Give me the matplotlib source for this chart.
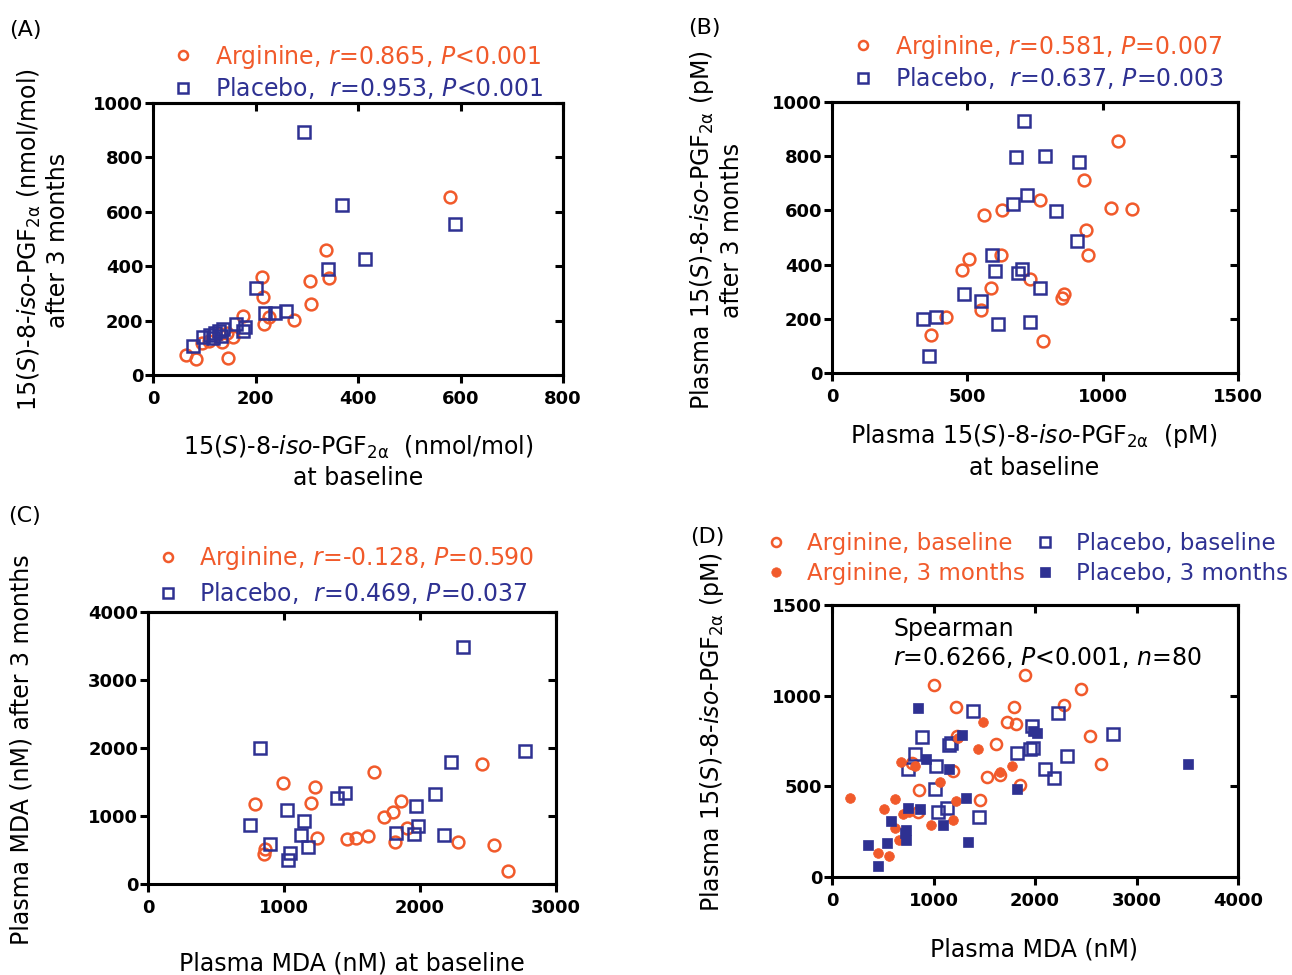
import matplotlib
matplotlib.use("Agg")
import matplotlib.pyplot as plt
from matplotlib.lines import Line2D

RED = '#F15A2B'
BLUE = '#2E3192'
W, H = 1292, 975

# (A) urinary 15(S)-8-iso-PGF2a, baseline vs after 3 months
a_arg_base = [579, 337, 343, 306, 308, 212, 214, 175, 227, 216, 276, 156, 135, 145, 95, 65, 84, 147, 128, 110]
a_arg_3m = [655, 460, 358, 347, 260, 362, 286, 217, 212, 188, 202, 139, 120, 153, 119, 74, 58, 64, 150, 125]
a_plc_base = [295, 368, 589, 414, 342, 201, 219, 239, 260, 162, 180, 176, 137, 121, 111, 118, 98, 78, 128, 132]
a_plc_3m = [893, 625, 555, 425, 388, 319, 227, 229, 237, 188, 178, 163, 168, 153, 147, 135, 139, 108, 160, 145]

# (B) plasma 15(S)-8-iso-PGF2a (pM)
b_arg_base = [1058, 931, 770, 629, 563, 1032, 1109, 940, 947, 624, 506, 479, 732, 586, 856, 848, 550, 421, 366, 778]
b_arg_3m = [856, 712, 638, 600, 582, 610, 607, 528, 434, 436, 421, 379, 347, 314, 292, 276, 233, 205, 141, 119]
b_plc_base = [711, 679, 787, 913, 719, 667, 827, 904, 592, 601, 686, 703, 770, 488, 549, 335, 383, 612, 732, 357]
b_plc_3m = [930, 796, 800, 779, 656, 623, 598, 488, 436, 377, 368, 384, 313, 292, 264, 199, 206, 182, 190, 64]

# (C) plasma MDA (nM)
c_arg_base = [2453, 1665, 996, 1226, 787, 1197, 1857, 1798, 1732, 1901, 1246, 1462, 1531, 1621, 1815, 2279, 2544, 2649, 863, 851]
c_arg_3m = [1765, 1653, 1491, 1433, 1174, 1188, 1222, 1066, 978, 822, 675, 660, 680, 699, 616, 616, 567, 186, 518, 445]
c_plc_base = [2318, 827, 2772, 2225, 2107, 1447, 1391, 1972, 1023, 748, 1145, 1128, 1177, 895, 1047, 1030, 1822, 1955, 1984, 2180]
c_plc_3m = [3487, 2005, 1961, 1800, 1320, 1335, 1262, 1149, 1081, 870, 929, 724, 543, 587, 455, 357, 753, 733, 856, 724]

# (D) plasma MDA vs plasma 15(S)-8-iso-PGF2a, all samples
d_arg_base_mda = [1000, 1898, 2456, 2282, 1223, 1790, 1725, 1813, 2544, 1230, 1613, 2652, 1190, 1525, 1659, 1852, 856, 1462, 787, 852]
d_arg_base_pgf = [1059, 1113, 1035, 950, 937, 939, 856, 846, 778, 778, 731, 624, 583, 550, 561, 506, 478, 422, 630, 361]
d_arg_3m_mda = [1492, 1439, 1774, 1652, 1066, 675, 813, 180, 620, 515, 695, 1220, 1190, 974, 623, 662, 452, 564, 1246, 760]
d_arg_3m_pgf = [856, 707, 611, 581, 524, 635, 611, 435, 431, 376, 346, 420, 313, 285, 272, 204, 135, 115, 769, 360]
d_plc_base_mda = [1387, 2226, 2770, 1970, 885, 1148, 1170, 1984, 1951, 2318, 1826, 820, 744, 1026, 2102, 2184, 1016, 1043, 1131, 1446]
d_plc_base_pgf = [913, 904, 787, 830, 774, 728, 737, 713, 704, 670, 685, 681, 598, 611, 593, 546, 487, 357, 380, 333]
d_plc_3m_mda = [852, 1279, 1984, 2023, 928, 1157, 3508, 1820, 1321, 744, 869, 584, 1089, 728, 728, 354, 541, 1344, 449, 721]
d_plc_3m_pgf = [931, 781, 806, 796, 652, 596, 624, 487, 435, 380, 374, 311, 285, 259, 204, 176, 185, 194, 61, 241]

plt.rcParams['font.family'] = 'DejaVu Sans'
plt.rcParams['mathtext.fontset'] = 'dejavusans'

PGF = '15($S$)-8-$\\mathit{iso}$-PGF$_{\\mathregular{2α}}$'
LABEL_FS = 17
LEGEND_FS = 17


def fx(x):
    return x / W


def fy(y):
    return 1 - y / H


def make_axes(fig, left, top, right, bottom):
    return fig.add_axes([fx(left), fy(bottom), (right - left) / W, (bottom - top) / H])


def style_axes(ax, xlim, xticks, ylim, yticks):
    ax.set_xlim(xlim)
    ax.set_ylim(ylim)
    ax.set_xticks(xticks)
    ax.set_yticks(yticks)
    for s in ax.spines.values():
        s.set_linewidth(2.2)
    ax.tick_params(direction='out', length=6, width=2.2, labelsize=13)
    ax.tick_params(axis='x', pad=5)
    ax.tick_params(axis='y', pad=1)
    for lab in ax.get_xticklabels() + ax.get_yticklabels():
        lab.set_fontweight('bold')
    # ticks on top / right point inward
    top = ax.secondary_xaxis('top')
    top.set_xticks(xticks)
    top.tick_params(direction='in', length=6, width=2.2, labeltop=False)
    top.spines['top'].set_linewidth(2.2)
    right = ax.secondary_yaxis('right')
    right.set_yticks(yticks)
    right.tick_params(direction='in', length=6, width=2.2, labelright=False)
    right.spines['right'].set_linewidth(2.2)


def open_pts(ax, x, y, marker, color, ms=8.5):
    ax.plot(x, y, linestyle='none', marker=marker, ms=ms, mfc='none',
            mec=color, mew=1.8, clip_on=False)


def filled_pts(ax, x, y, marker, color, ms=7):
    ax.plot(x, y, linestyle='none', marker=marker, ms=ms, mfc=color,
            mec=color, mew=0.5, clip_on=False)


def key(marker, color, filled=False):
    if filled:
        return Line2D([], [], linestyle='none', marker=marker, ms=6.8, mfc=color, mec=color, mew=0.5)
    return Line2D([], [], linestyle='none', marker=marker, ms=6.5, mfc='none', mec=color, mew=1.8)


def add_legend(ax, handles, labels, anchor, colors, spacing=0.2, fs=LEGEND_FS):
    leg = ax.legend(handles, labels, loc='upper left', bbox_to_anchor=anchor,
                    frameon=False, fontsize=fs, handlelength=1.0, handletextpad=0.85,
                    labelspacing=spacing, borderpad=0, borderaxespad=0)
    for t, c in zip(leg.get_texts(), colors):
        t.set_color(c)
    return leg


fig = plt.figure(figsize=(W / 100, H / 100), dpi=100)

# ---- (A)
ax = make_axes(fig, 153, 103, 563, 375)
open_pts(ax, a_arg_base, a_arg_3m, 'o', RED)
open_pts(ax, a_plc_base, a_plc_3m, 's', BLUE)
style_axes(ax, (0, 800), [0, 200, 400, 600, 800], (0, 1000), [0, 200, 400, 600, 800, 1000])
add_legend(ax, [key('o', RED), key('s', BLUE)],
           ['Arginine, $r$=0.865, $P$<0.001', 'Placebo,  $r$=0.953, $P$<0.001'],
           (0.044, 1.222), [RED, BLUE])
fig.text(fx(25), fy(30), '(A)', fontsize=16, ha='center', va='center')
fig.text(fx(43), fy(240), PGF + ' (nmol/mol)\nafter 3 months', rotation=90, fontsize=LABEL_FS,
         ha='center', va='center', multialignment='center', linespacing=1.15)
fig.text(fx(358), fy(462), PGF + '  (nmol/mol)\nat baseline', fontsize=LABEL_FS,
         ha='center', va='center', multialignment='center', linespacing=1.3)

# ---- (B)
ax = make_axes(fig, 832, 102, 1238, 373)
open_pts(ax, b_arg_base, b_arg_3m, 'o', RED)
open_pts(ax, b_plc_base, b_plc_3m, 's', BLUE)
style_axes(ax, (0, 1500), [0, 500, 1000, 1500], (0, 1000), [0, 200, 400, 600, 800, 1000])
add_legend(ax, [key('o', RED), key('s', BLUE)],
           ['Arginine, $r$=0.581, $P$=0.007', 'Placebo,  $r$=0.637, $P$=0.003'],
           (0.047, 1.256), [RED, BLUE])
fig.text(fx(704), fy(28), '(B)', fontsize=16, ha='center', va='center')
fig.text(fx(716), fy(230), 'Plasma ' + PGF + ' (pM)\nafter 3 months', rotation=90, fontsize=LABEL_FS,
         ha='center', va='center', multialignment='center', linespacing=1.25)
fig.text(fx(1034), fy(451), 'Plasma ' + PGF + '  (pM)\nat baseline', fontsize=LABEL_FS,
         ha='center', va='center', multialignment='center', linespacing=1.3)

# ---- (C)
ax = make_axes(fig, 148, 612, 556, 884)
open_pts(ax, c_arg_base, c_arg_3m, 'o', RED)
open_pts(ax, c_plc_base, c_plc_3m, 's', BLUE)
style_axes(ax, (0, 3000), [0, 1000, 2000, 3000], (0, 4000), [0, 1000, 2000, 3000, 4000])
add_legend(ax, [key('o', RED), key('s', BLUE)],
           ['Arginine, $r$=-0.128, $P$=0.590', 'Placebo,  $r$=0.469, $P$=0.037'],
           (0.019, 1.25), [RED, BLUE], spacing=0.33)
fig.text(fx(25), fy(516), '(C)', fontsize=16, ha='center', va='center')
fig.text(fx(22), fy(750), 'Plasma MDA (nM) after 3 months', rotation=90, fontsize=LABEL_FS,
         ha='center', va='center')
fig.text(fx(352), fy(963), 'Plasma MDA (nM) at baseline', fontsize=LABEL_FS, ha='center', va='center')

# ---- (D)
ax = make_axes(fig, 832, 605, 1238, 877)
open_pts(ax, d_arg_base_mda, d_arg_base_pgf, 'o', RED, ms=8)
open_pts(ax, d_plc_base_mda, d_plc_base_pgf, 's', BLUE, ms=8)
filled_pts(ax, d_arg_3m_mda, d_arg_3m_pgf, 'o', RED)
filled_pts(ax, d_plc_3m_mda, d_plc_3m_pgf, 's', BLUE)
style_axes(ax, (0, 4000), [0, 1000, 2000, 3000, 4000], (0, 1500), [0, 500, 1000, 1500])
leg = add_legend(ax, [key('o', RED), key('o', RED, True)], ['Arginine, baseline', 'Arginine, 3 months'],
                 (-0.167, 1.268), [RED, RED], spacing=0.3, fs=16.5)
ax.add_artist(leg)
add_legend(ax, [key('s', BLUE), key('s', BLUE, True)], ['Placebo, baseline', 'Placebo, 3 months'],
           (0.4975, 1.268), [BLUE, BLUE], spacing=0.3, fs=16.5)
ax.text(0.151, 0.957, 'Spearman\n$r$=0.6266, $P$<0.001, $n$=80', transform=ax.transAxes,
        fontsize=17, ha='left', va='top', linespacing=1.2)
fig.text(fx(707), fy(537), '(D)', fontsize=16, ha='center', va='center')
fig.text(fx(712), fy(732), 'Plasma ' + PGF + ' (pM)', rotation=90, fontsize=LABEL_FS,
         ha='center', va='center')
fig.text(fx(1034), fy(950), 'Plasma MDA (nM)', fontsize=LABEL_FS, ha='center', va='center')

fig.savefig('out.png', dpi=100)
